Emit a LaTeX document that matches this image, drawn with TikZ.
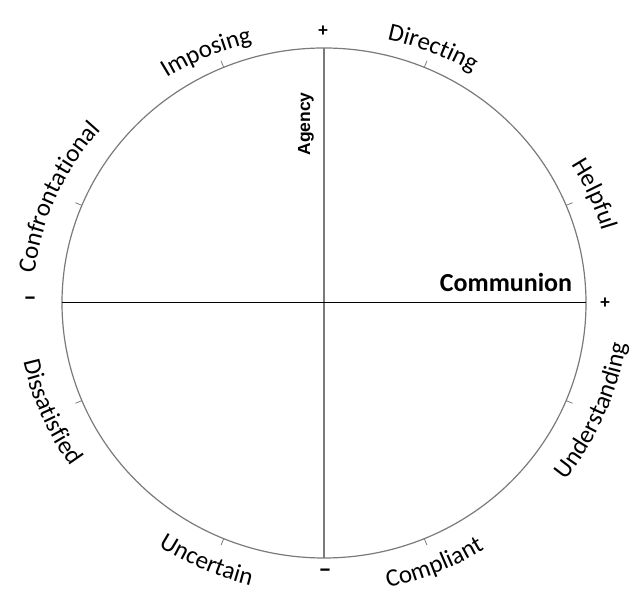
\documentclass[tikz,border=0pt]{standalone}
\usepackage{fontspec}
\setmainfont{Carlito}
\newfontfamily\arialfont{Liberation Sans}
\usetikzlibrary{decorations.text,calc}
\definecolor{ringgray}{HTML}{7A7A7A}
\newcommand\lblfont{\fontsize{25}{30}\selectfont}
\begin{document}
\begin{tikzpicture}[x=1pt,y=1pt,
  ring/.style={draw=ringgray, line width=1.2pt},
  vaxis/.style={draw=ringgray, line width=1.4pt},
  haxis/.style={draw=black, line width=1pt},
  tickmark/.style={draw=ringgray, line width=0.8pt},
  sign/.style={font={\bfseries\fontsize{19}{22}\selectfont}, inner sep=0pt},
  minussign/.style={font={\bfseries\fontsize{26}{28}\selectfont}, inner sep=0pt},
  toplbl/.style={decorate, decoration={text along path, text align=center, text={|\lblfont|#1}}},
  botlbl/.style={decorate, decoration={text along path, text align=center, text={|\lblfont|#1}}}]
\useasboundingbox (0,0) rectangle (634,591);
\coordinate (C) at (324,288);
% ring
\draw[ring] (C) ellipse[x radius=262pt, y radius=255pt];
% axes end points
\coordinate (top) at ($(C)+(90:262pt and 255pt)$);
\coordinate (bot) at ($(C)+(-90:262pt and 255pt)$);
\coordinate (lft) at ($(C)+(180:262pt and 255pt)$);
\coordinate (rgt) at ($(C)+(0:262pt and 255pt)$);
\draw[vaxis] (top) -- (bot);
\draw[haxis] (lft) -- (rgt);
% ticks
\foreach \a in {22.5,67.5,112.5,157.5,-22.5,-67.5,-112.5,-157.5}{
  \coordinate (ti) at ($(C)+(\a:262pt and 255pt)$);
  \coordinate (to) at ($(C)+(\a:269pt and 262pt)$);
  \draw[tickmark] (ti) -- (to);
}
% labels, upper half (clockwise)
\path[toplbl=Imposing] (C) ++(159.5:287pt and 269pt) arc[start angle=159.5, end angle=69.5, x radius=287pt, y radius=269pt];
\path[toplbl=Directing] (C) ++(112.5:287pt and 270pt) arc[start angle=112.5, end angle=22.5, x radius=287pt, y radius=270pt];
\path[toplbl=Helpful] (C) ++(67.5:289pt and 269pt) arc[start angle=67.5, end angle=-22.5, x radius=289pt, y radius=269pt];
\path[toplbl=Confrontational] (C) ++(202.5:291pt and 269pt) arc[start angle=202.5, end angle=112.5, x radius=291pt, y radius=269pt];
% labels, lower half (counter-clockwise)
\path[botlbl=Dissatisfied] (C) ++(-202.5:307pt and 289pt) arc[start angle=-202.5, end angle=-112.5, x radius=307pt, y radius=289pt];
\path[botlbl=Uncertain] (C) ++(-159:302pt and 291pt) arc[start angle=-159, end angle=-69, x radius=302pt, y radius=291pt];
\path[botlbl=Compliant] (C) ++(-112.5:302pt and 291pt) arc[start angle=-112.5, end angle=-22.5, x radius=302pt, y radius=291pt];
\path[botlbl=Understanding] (C) ++(-67.5:305pt and 289pt) arc[start angle=-67.5, end angle=22.5, x radius=305pt, y radius=289pt];
% axis titles
\node[font={\arialfont\bfseries\fontsize{17.5}{20}\selectfont}, rotate=90, inner sep=0pt] (agency) at (306,467) {Agency};
\node[font={\bfseries\fontsize{26}{30}\selectfont}, inner sep=0pt] (communion) at (506,309) {Communion};
% signs
\node[sign] (ptop) at (323,560) {+};
\node[sign] (prgt) at (605,288) {+};
\node[minussign] (mlft) at (30,290) {–};
\node[minussign] (mbot) at (325,18) {–};
\end{tikzpicture}
\end{document}
